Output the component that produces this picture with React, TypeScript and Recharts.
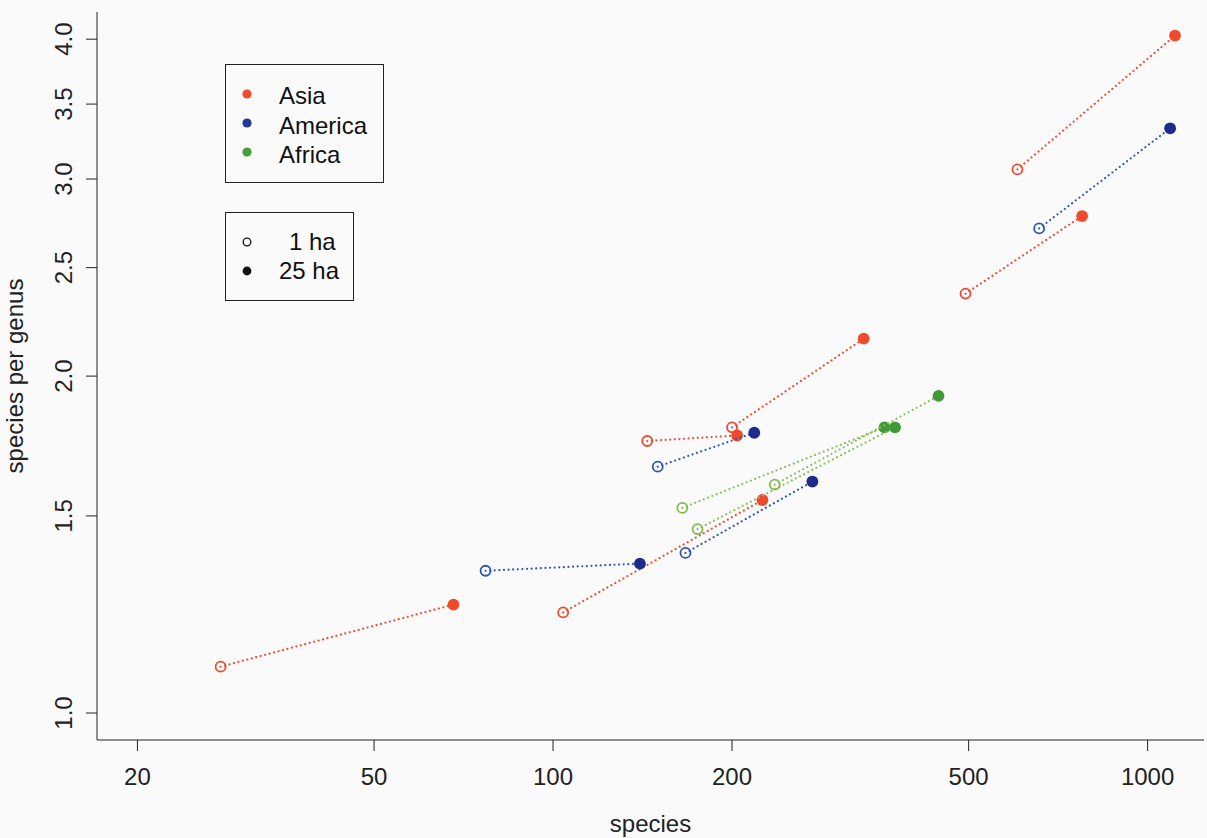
import React from "react";
import { Legend, Scatter, ScatterChart, XAxis, YAxis } from "recharts";

// species counts and species-per-genus (1 ha plot -> 25 ha plot)
const asiaSpecies1ha = [27.6, 104, 144, 200, 494, 604];
const asiaSpg1ha = [1.1, 1.23, 1.75, 1.8, 2.37, 3.06];
const asiaSpecies25ha = [68, 225, 204, 333, 776, 1112];
const asiaSpg25ha = [1.25, 1.55, 1.77, 2.16, 2.78, 4.03];

const americaSpecies1ha = [77, 150, 167, 657];
const americaSpg1ha = [1.34, 1.66, 1.39, 2.71];
const americaSpecies25ha = [140, 218, 273, 1091];
const americaSpg25ha = [1.36, 1.78, 1.61, 3.33];

const africaSpecies1ha = [165, 175, 236];
const africaSpg1ha = [1.525, 1.46, 1.6];
const africaSpecies25ha = [361, 376, 445];
const africaSpg25ha = [1.8, 1.8, 1.92];

const xTicks = [20, 50, 100, 200, 500, 1000];
const yTicks = [1.0, 1.5, 2.0, 2.5, 3.0, 3.5, 4.0];
const regionNames = ["Asia", "America", "Africa"];
const plotSizes = ["1 ha", "25 ha"];

const X_DOMAIN: [number, number] = [17.1, 1244];
const Y_DOMAIN: [number, number] = [0.946, 4.23];
const FONT = '"Liberation Sans", Arial, Helvetica, sans-serif';
const INK = "#222";

const regions = [
  { name: "Asia", s1: asiaSpecies1ha, g1: asiaSpg1ha, s25: asiaSpecies25ha, g25: asiaSpg25ha, filled: "#ef4a2b", open: "#ec4a2f", line: "#ee4d33" },
  { name: "America", s1: americaSpecies1ha, g1: americaSpg1ha, s25: americaSpecies25ha, g25: americaSpg25ha, filled: "#1d2b8c", open: "#2c55b0", line: "#3056b4" },
  { name: "Africa", s1: africaSpecies1ha, g1: africaSpg1ha, s25: africaSpecies25ha, g25: africaSpg25ha, filled: "#3f9a36", open: "#7fbb4c", line: "#8cc05a" },
];

const legendColors = ["#ef4a2b", "#25359a", "#45a03c"];

const pairs = regions.flatMap((r) =>
  r.s1.map((s, i) => ({
    key: `${r.name}-${i}`,
    region: r,
    data: [
      { x: s, y: r.g1[i], ha: 1 },
      { x: r.s25[i], y: r.g25[i], ha: 25 },
    ],
  }))
);

function makeDot(open: string, filled: string) {
  return (props: any) => {
    const { cx, cy, payload } = props;
    if (cx == null || cy == null) return <g />;
    if (payload.ha === 1) {
      return <circle cx={cx} cy={cy} r={5} fill="none" stroke={open} strokeWidth={1.8} />;
    }
    return <circle cx={cx} cy={cy} r={5.9} fill={filled} />;
  };
}

function XTick({ x, y, payload }: any) {
  return (
    <text x={x} y={y + 32} textAnchor="middle" fontFamily={FONT} fontSize={24} fill={INK}>
      {payload.value}
    </text>
  );
}

function YTick({ x, y, payload }: any) {
  const tx = x - 12;
  return (
    <text x={tx} y={y} transform={`rotate(-90, ${tx}, ${y})`} textAnchor="middle" fontFamily={FONT} fontSize={24} fill={INK}>
      {Number(payload.value).toFixed(1)}
    </text>
  );
}

function LegendBoxes() {
  return (
    <svg width={160} height={240} style={{ display: "block" }}>
      <rect x={0.5} y={0.5} width={158} height={118} fill="none" stroke={INK} />
      {regionNames.map((n, i) => (
        <g key={n}>
          <circle cx={22} cy={30 + i * 29} r={4.6} fill={legendColors[i]} />
          <text x={54} y={40 + i * 29.5} fontFamily={FONT} fontSize={24} fill="#111">
            {n}
          </text>
        </g>
      ))}
      <rect x={0.5} y={148.5} width={128} height={88} fill="none" stroke={INK} />
      <circle cx={22} cy={178} r={3.8} fill="none" stroke="#111" strokeWidth={1.3} />
      <text x={64} y={186} fontFamily={FONT} fontSize={24} fill="#111">
        {plotSizes[0]}
      </text>
      <circle cx={22} cy={207} r={4.4} fill="#111" />
      <text x={54} y={215} fontFamily={FONT} fontSize={24} fill="#111">
        {plotSizes[1]}
      </text>
    </svg>
  );
}

export default function App() {
  return (
    <div style={{ position: "absolute", left: 0, top: 0, width: 1207, height: 838, background: "#fafafb", fontFamily: FONT }}>
      <ScatterChart width={1207} height={838} margin={{ top: 12, right: 3, bottom: 0, left: 0 }}>
        <XAxis
          dataKey="x"
          type="number"
          scale="log"
          domain={X_DOMAIN}
          allowDataOverflow
          ticks={xTicks}
          interval={0}
          height={98}
          tickSize={11}
          tick={<XTick />}
          axisLine={{ stroke: INK }}
          tickLine={{ stroke: INK }}
          label={(props: any) => {
            const vb = props.viewBox;
            return (
              <text x={vb.x + vb.width / 2} y={vb.y + 92} textAnchor="middle" fontFamily={FONT} fontSize={24} fill={INK}>
                species
              </text>
            );
          }}
        />
        <YAxis
          dataKey="y"
          type="number"
          scale="log"
          domain={Y_DOMAIN}
          allowDataOverflow
          ticks={yTicks}
          interval={0}
          width={97}
          tickSize={11}
          tick={<YTick />}
          axisLine={{ stroke: INK }}
          tickLine={{ stroke: INK }}
          label={(props: any) => {
            const vb = props.viewBox;
            const cx = vb.x + 23;
            const cy = vb.y + vb.height / 2;
            return (
              <text x={cx} y={cy} transform={`rotate(-90, ${cx}, ${cy})`} textAnchor="middle" fontFamily={FONT} fontSize={24} fill={INK}>
                species per genus
              </text>
            );
          }}
        />
        <XAxis xAxisId="top" orientation="top" type="number" scale="log" domain={X_DOMAIN} allowDataOverflow height={0} tick={false} tickLine={false} axisLine={{ stroke: INK }} />
        <YAxis yAxisId="right" orientation="right" type="number" scale="log" domain={Y_DOMAIN} allowDataOverflow width={0} tick={false} tickLine={false} axisLine={{ stroke: INK }} />
        {pairs.map((p) => (
          <Scatter
            key={p.key}
            data={p.data}
            fill={p.region.filled}
            isAnimationActive={false}
            line={{ stroke: p.region.line, strokeWidth: 2.2, strokeDasharray: "0.01 4.6", strokeLinecap: "round" }}
            shape={makeDot(p.region.open, p.region.filled)}
          />
        ))}
        <Legend
          layout="vertical"
          align="center"
          verticalAlign="middle"
          wrapperStyle={{ left: 225, top: 64, width: 160, height: 240 }}
          content={() => <LegendBoxes />}
        />
      </ScatterChart>
    </div>
  );
}
